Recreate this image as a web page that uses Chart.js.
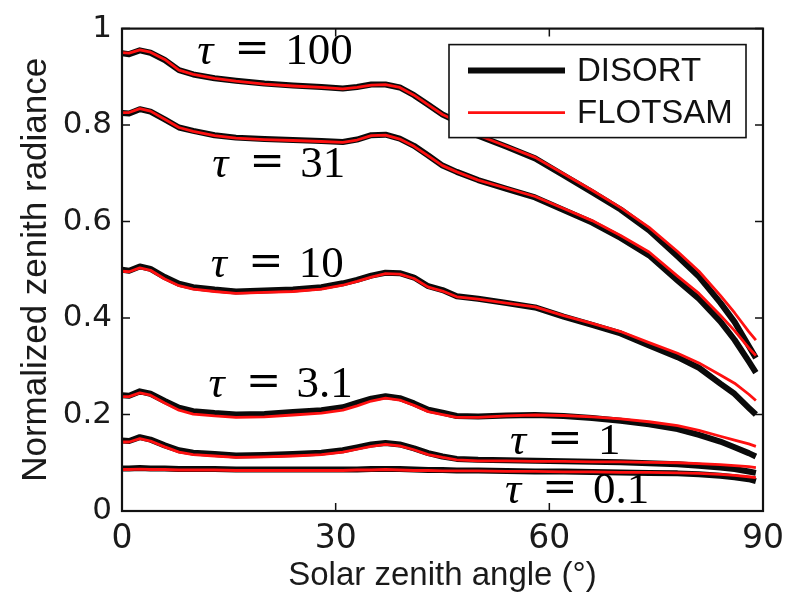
<!DOCTYPE html>
<html>
<head>
<meta charset="utf-8">
<script src="https://cdn.jsdelivr.net/npm/chart.js@4.4.0/dist/chart.umd.min.js"></script>
<style>
  html, body { margin: 0; padding: 0; background: #fff; }
  #wrap { width: 793px; height: 600px; }
</style>
</head>
<body>
<div id="wrap"><canvas id="radChart" width="793" height="600"></canvas></div>
<script>
// solar zenith angle grid (degrees)
const angles = [0, 1, 2.5, 4, 6, 8, 10, 13, 16, 20, 24, 28, 31, 33, 35, 37, 39, 41, 43, 45, 47, 50, 54, 58, 62, 66, 70, 74, 78, 81, 84, 86, 88, 89];

// normalized zenith radiance, one array per optical depth and model
const disort100 = [0.949, 0.947, 0.955, 0.950, 0.935, 0.914, 0.905, 0.897, 0.892, 0.886, 0.882, 0.879, 0.876, 0.879, 0.884, 0.884, 0.878, 0.862, 0.842, 0.822, 0.808, 0.778, 0.755, 0.731, 0.696, 0.661, 0.625, 0.582, 0.528, 0.486, 0.432, 0.392, 0.342, 0.317];
const flotsam100 = [0.950, 0.949, 0.956, 0.951, 0.936, 0.914, 0.905, 0.897, 0.891, 0.885, 0.881, 0.878, 0.875, 0.878, 0.883, 0.884, 0.878, 0.862, 0.842, 0.822, 0.808, 0.779, 0.756, 0.733, 0.699, 0.665, 0.629, 0.588, 0.538, 0.497, 0.447, 0.411, 0.372, 0.354];

const disort31 = [0.825, 0.824, 0.833, 0.828, 0.812, 0.795, 0.788, 0.779, 0.774, 0.771, 0.769, 0.767, 0.765, 0.770, 0.779, 0.780, 0.772, 0.757, 0.737, 0.716, 0.703, 0.686, 0.668, 0.650, 0.624, 0.598, 0.566, 0.530, 0.478, 0.440, 0.393, 0.355, 0.310, 0.287];
const flotsam31 = [0.826, 0.826, 0.834, 0.829, 0.812, 0.795, 0.787, 0.778, 0.773, 0.770, 0.768, 0.766, 0.764, 0.769, 0.778, 0.779, 0.771, 0.756, 0.736, 0.716, 0.703, 0.686, 0.669, 0.652, 0.627, 0.602, 0.571, 0.537, 0.487, 0.451, 0.406, 0.374, 0.338, 0.322];

const disort10 = [0.500, 0.498, 0.507, 0.502, 0.485, 0.471, 0.464, 0.459, 0.455, 0.457, 0.459, 0.464, 0.472, 0.479, 0.488, 0.494, 0.493, 0.484, 0.466, 0.458, 0.445, 0.440, 0.431, 0.422, 0.403, 0.386, 0.368, 0.343, 0.319, 0.297, 0.264, 0.243, 0.214, 0.200];
const flotsam10 = [0.497, 0.496, 0.504, 0.499, 0.481, 0.467, 0.460, 0.455, 0.451, 0.453, 0.455, 0.460, 0.468, 0.476, 0.485, 0.492, 0.491, 0.482, 0.464, 0.456, 0.444, 0.439, 0.431, 0.423, 0.405, 0.389, 0.372, 0.349, 0.327, 0.307, 0.282, 0.265, 0.242, 0.229];

const disort3 = [0.240, 0.239, 0.248, 0.243, 0.228, 0.214, 0.207, 0.203, 0.200, 0.201, 0.205, 0.209, 0.215, 0.224, 0.233, 0.238, 0.234, 0.223, 0.210, 0.204, 0.197, 0.196, 0.198, 0.199, 0.197, 0.193, 0.187, 0.180, 0.170, 0.158, 0.144, 0.132, 0.120, 0.113];
const flotsam3 = [0.237, 0.237, 0.245, 0.240, 0.224, 0.209, 0.201, 0.197, 0.194, 0.195, 0.199, 0.203, 0.209, 0.218, 0.228, 0.234, 0.230, 0.219, 0.206, 0.200, 0.194, 0.194, 0.197, 0.199, 0.198, 0.195, 0.191, 0.185, 0.177, 0.167, 0.155, 0.147, 0.139, 0.134];

const disort1 = [0.146, 0.145, 0.153, 0.148, 0.136, 0.126, 0.121, 0.118, 0.115, 0.116, 0.118, 0.121, 0.126, 0.132, 0.138, 0.141, 0.138, 0.130, 0.120, 0.113, 0.108, 0.106, 0.105, 0.104, 0.103, 0.102, 0.101, 0.099, 0.097, 0.094, 0.090, 0.087, 0.082, 0.079];
const flotsam1 = [0.143, 0.143, 0.150, 0.145, 0.133, 0.122, 0.117, 0.114, 0.111, 0.112, 0.114, 0.117, 0.122, 0.128, 0.134, 0.138, 0.135, 0.127, 0.117, 0.111, 0.106, 0.104, 0.104, 0.103, 0.103, 0.102, 0.102, 0.101, 0.100, 0.098, 0.096, 0.094, 0.092, 0.090];

const disort01 = [0.088, 0.088, 0.089, 0.088, 0.088, 0.087, 0.087, 0.087, 0.086, 0.086, 0.086, 0.086, 0.086, 0.086, 0.087, 0.087, 0.087, 0.086, 0.085, 0.085, 0.084, 0.084, 0.083, 0.082, 0.082, 0.081, 0.080, 0.079, 0.078, 0.076, 0.073, 0.070, 0.066, 0.062];
const flotsam01 = [0.086, 0.086, 0.087, 0.086, 0.086, 0.085, 0.085, 0.085, 0.084, 0.084, 0.084, 0.084, 0.084, 0.085, 0.085, 0.086, 0.085, 0.084, 0.084, 0.083, 0.083, 0.083, 0.082, 0.082, 0.081, 0.081, 0.080, 0.080, 0.079, 0.078, 0.076, 0.074, 0.071, 0.069];

const xTicks = [0, 30, 60, 90];
const yTicks = [0, 0.2, 0.4, 0.6, 0.8, 1];

// tau annotations: text plus anchor (deg, radiance) of the baseline start
const tauLabels = [
    { tau: '100', x: 10.7, y: 0.927 },
    { tau: '31',  x: 12.8, y: 0.693 },
    { tau: '10',  x: 12.6, y: 0.486 },
    { tau: '3.1', x: 12.3, y: 0.236 },
    { tau: '1',   x: 54.6, y: 0.119 },
    { tau: '0.1', x: 53.9, y: 0.016 }
];

const curves = [
    [disort100, flotsam100],
    [disort31, flotsam31],
    [disort10, flotsam10],
    [disort3, flotsam3],
    [disort1, flotsam1],
    [disort01, flotsam01]
];

function toPoints(values) {
    return angles.map((a, i) => ({ x: a, y: values[i] }));
}

const datasets = [];
curves.forEach(([dis, flo]) => {
    datasets.push({
        label: 'DISORT',
        data: toPoints(dis),
        borderColor: '#0a0a0a',
        borderWidth: 6,
        order: 1
    });
    datasets.push({
        label: 'FLOTSAM',
        data: toPoints(flo),
        borderColor: '#ff1010',
        borderWidth: 2.8,
        order: 0
    });
});

// MATLAB-like box with inward ticks on all four sides
const boxFrame = {
    id: 'boxFrame',
    afterDatasetsDraw(chart) {
        const { ctx, chartArea: a, scales } = chart;
        const len = 8;
        ctx.save();
        ctx.strokeStyle = '#111';
        ctx.lineWidth = 1.5;
        xTicks.forEach(v => {
            const px = scales.x.getPixelForValue(v);
            ctx.beginPath();
            ctx.moveTo(px, a.bottom); ctx.lineTo(px, a.bottom - len);
            ctx.moveTo(px, a.top); ctx.lineTo(px, a.top + len);
            ctx.stroke();
        });
        yTicks.forEach(v => {
            const py = scales.y.getPixelForValue(v);
            ctx.beginPath();
            ctx.moveTo(a.left, py); ctx.lineTo(a.left + len, py);
            ctx.moveTo(a.right, py); ctx.lineTo(a.right - len, py);
            ctx.stroke();
        });
        ctx.lineWidth = 2.2;
        ctx.strokeRect(a.left, a.top, a.right - a.left, a.bottom - a.top);
        ctx.restore();
    }
};

// optical depth labels drawn in math style
const tauText = {
    id: 'tauText',
    afterDatasetsDraw(chart) {
        const { ctx, scales } = chart;
        ctx.save();
        ctx.fillStyle = '#000';
        ctx.textBaseline = 'alphabetic';
        ctx.textAlign = 'left';
        tauLabels.forEach(lbl => {
            const px = scales.x.getPixelForValue(lbl.x);
            const py = scales.y.getPixelForValue(lbl.y);
            ctx.font = 'italic 45px "Liberation Serif"';
            ctx.fillText('\u03C4', px - 1, py);
            ctx.font = '42px "DejaVu Serif"';
            ctx.textAlign = 'center';
            ctx.fillText('=', px + 54, py - 2);
            ctx.textAlign = 'left';
            ctx.font = '45px "Liberation Serif"';
            ctx.fillText(lbl.tau, px + 87, py);
        });
        ctx.restore();
    }
};

// boxed legend in the upper right of the axes
const boxLegend = {
    id: 'boxLegend',
    afterDraw(chart) {
        const { ctx, chartArea: a } = chart;
        const seen = {};
        const items = chart.data.datasets.filter(ds => {
            if (seen[ds.label]) return false;
            seen[ds.label] = true;
            return true;
        });
        const w = 297, h = 93;
        const left = a.right - 17 - w;
        const top = a.top + 16;
        ctx.save();
        ctx.fillStyle = '#fff';
        ctx.fillRect(left, top, w, h);
        ctx.strokeStyle = '#111';
        ctx.lineWidth = 1.6;
        ctx.strokeRect(left, top, w, h);
        ctx.font = '33px "Liberation Sans"';
        ctx.textBaseline = 'middle';
        ctx.fillStyle = '#111';
        items.forEach((ds, i) => {
            const y = top + 26 + i * 42;
            ctx.beginPath();
            ctx.strokeStyle = ds.borderColor;
            ctx.lineWidth = ds.borderWidth;
            ctx.moveTo(left + 19, y);
            ctx.lineTo(left + 116, y);
            ctx.stroke();
            ctx.fillText(ds.label, left + 128, y + 1);
        });
        ctx.restore();
    }
};

const ctx = document.getElementById('radChart').getContext('2d');
const radChart = new Chart(ctx, {
    type: 'line',
    data: { datasets: datasets },
    options: {
        responsive: false,
        animation: false,
        events: [],
        layout: {
            padding: { left: 0, right: 28, top: 19, bottom: 0 }
        },
        elements: {
            point: { radius: 0 },
            line: { tension: 0, borderCapStyle: 'butt', borderJoinStyle: 'round' }
        },
        plugins: {
            legend: { display: false },
            tooltip: { enabled: false }
        },
        scales: {
            x: {
                type: 'linear',
                min: 0,
                max: 90,
                afterBuildTicks: scale => { scale.ticks = xTicks.map(v => ({ value: v })); },
                afterFit: scale => { scale.height = 89; },
                grid: { display: false, drawTicks: false },
                border: { display: false },
                ticks: {
                    color: '#1a1a1a',
                    padding: 9,
                    maxRotation: 0,
                    font: { family: 'DejaVu Sans', size: 33 }
                },
                title: {
                    display: true,
                    text: 'Solar zenith angle (°)',
                    color: '#1a1a1a',
                    padding: { top: 0, bottom: 8 },
                    font: { family: 'Liberation Sans', size: 33, lineHeight: 1 }
                }
            },
            y: {
                min: 0,
                max: 1,
                afterBuildTicks: scale => { scale.ticks = yTicks.map(v => ({ value: v })); },
                afterFit: scale => { scale.width = 122; },
                grid: { display: false, drawTicks: false },
                border: { display: false },
                ticks: {
                    color: '#1a1a1a',
                    padding: 10,
                    font: { family: 'DejaVu Sans', size: 31 },
                    callback: v => String(+v.toFixed(1))
                },
                title: {
                    display: true,
                    text: 'Normalized zenith radiance',
                    color: '#1a1a1a',
                    padding: { top: 19, bottom: 0 },
                    font: { family: 'Liberation Sans', size: 35, lineHeight: 1 }
                }
            }
        }
    },
    plugins: [boxFrame, tauText, boxLegend]
});
</script>
</body>
</html>
